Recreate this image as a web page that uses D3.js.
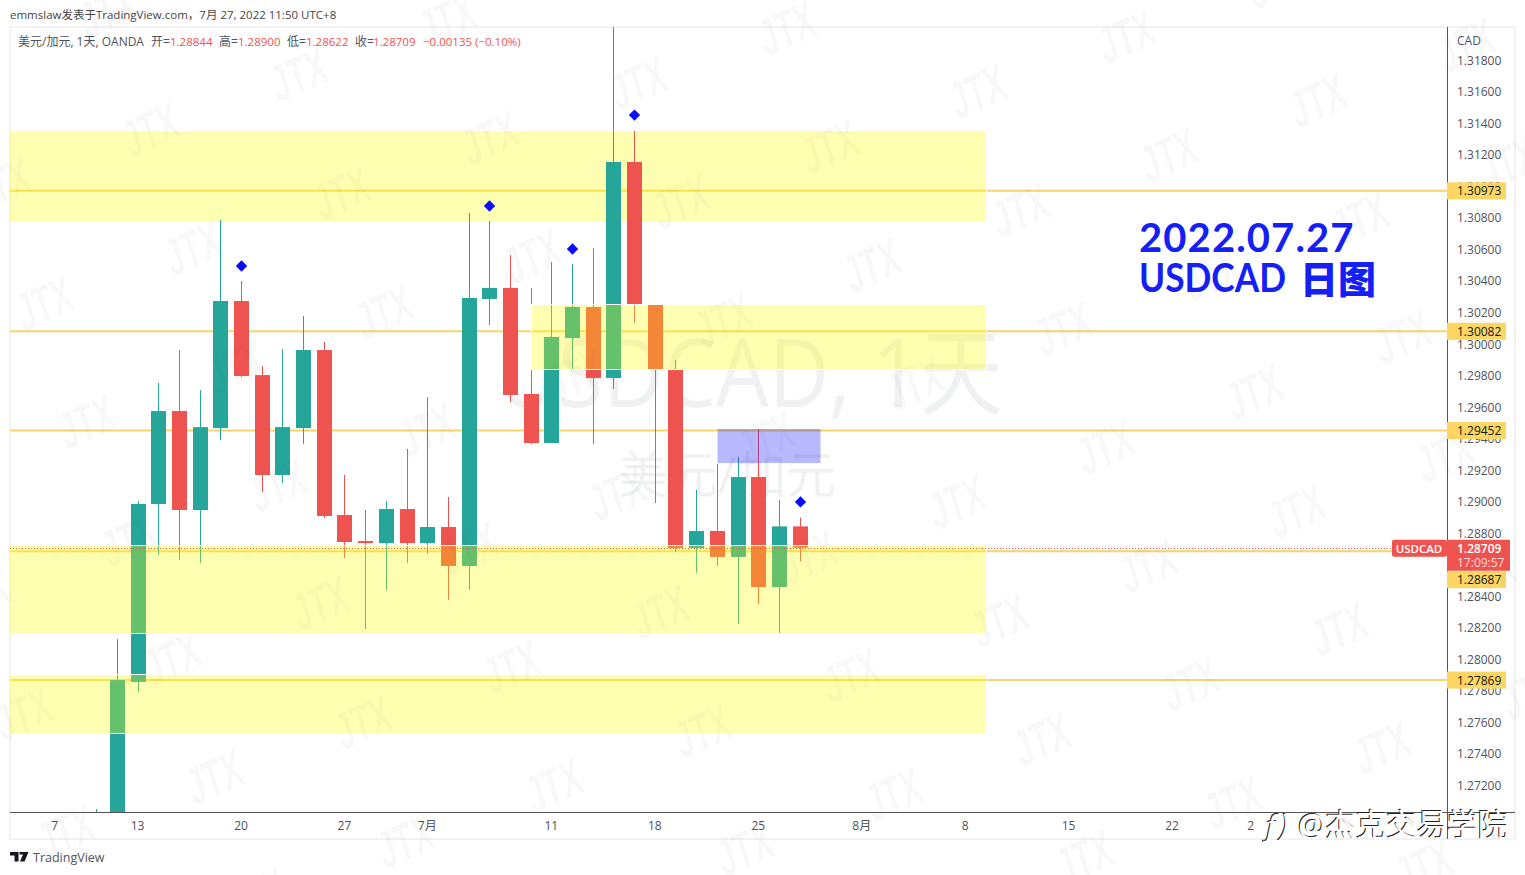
<!DOCTYPE html>
<html>
<head>
<meta charset="utf-8">
<script src="https://cdn.jsdelivr.net/npm/d3@7"></script>
<style>
  body { margin: 0; background: #fff; }
  svg { display: block; }
  text { font-family: "Open Sans", "Noto Sans CJK SC", sans-serif; }
</style>
</head>
<body>
<div id="chart"></div>
<script>
// daily bars, 9 Jun to 27 Jul 2022 (slot 0 on the time axis is 7 Jun)
const firstBarSlot = 2;
const opens  = [1.26500, 1.26700, 1.27857, 1.28986, 1.29576, 1.28948, 1.29468, 1.30274, 1.29804, 1.29170, 1.29468, 1.29963, 1.28916, 1.28751, 1.28738, 1.28954, 1.28738, 1.28840, 1.28593, 1.30287, 1.30357, 1.29684, 1.29373, 1.30039, 1.30236, 1.29785, 1.31156, 1.30249, 1.29836, 1.28707, 1.28815, 1.28650, 1.29157, 1.28459, 1.28844];
const highs  = [1.27051, 1.28129, 1.29005, 1.29754, 1.29963, 1.29709, 1.30788, 1.30401, 1.29862, 1.29969, 1.30179, 1.30014, 1.29170, 1.28948, 1.29005, 1.29335, 1.29665, 1.29030, 1.30832, 1.30782, 1.30566, 1.30357, 1.30521, 1.30509, 1.30610, 1.32240, 1.31353, 1.30249, 1.29900, 1.29075, 1.29240, 1.29284, 1.29462, 1.29011, 1.28900];
const lows   = [1.26400, 1.26500, 1.27793, 1.28662, 1.28631, 1.28612, 1.29392, 1.29792, 1.29062, 1.29119, 1.29367, 1.28897, 1.28643, 1.28193, 1.28440, 1.28612, 1.28669, 1.28377, 1.28440, 1.30122, 1.29633, 1.29367, 1.29373, 1.29843, 1.29367, 1.29716, 1.30134, 1.28992, 1.28681, 1.28548, 1.28593, 1.28225, 1.28351, 1.28167, 1.28622];
const closes = [1.26800, 1.27869, 1.28986, 1.29576, 1.28948, 1.29474, 1.30274, 1.29798, 1.29170, 1.29474, 1.29963, 1.28910, 1.28745, 1.28738, 1.28954, 1.28738, 1.28840, 1.28593, 1.30293, 1.30357, 1.29678, 1.29373, 1.30046, 1.30236, 1.29785, 1.31156, 1.30249, 1.29836, 1.28707, 1.28815, 1.28650, 1.29157, 1.28459, 1.28844, 1.28709];

const axisPrices = [1.318, 1.316, 1.314, 1.312, 1.31, 1.308, 1.306, 1.304, 1.302, 1.3, 1.298, 1.296, 1.294, 1.292, 1.29, 1.288, 1.286, 1.284, 1.282, 1.28, 1.278, 1.276, 1.274, 1.272];
const timeSlots  = [0, 4, 9, 14, 18, 24, 29, 34, 39, 44, 49, 54, 57.8];
const timeLabels = ["7", "13", "20", "27", "7月", "11", "18", "25", "8月", "8", "15", "22", "2"];

const levelPrices = [1.30973, 1.30082, 1.29452, 1.28687, 1.27869];
const lastPrice = 1.28709;
const countdown = "17:09:57";

// yellow boxes: top price, bottom price, first slot (null = from the left edge)
const zoneTops    = [1.31353, 1.30249, 1.28719, 1.27901];
const zoneBottoms = [1.30775, 1.29843, 1.28169, 1.27533];
const zoneStarts  = [null, 23, null, null];
const zoneEndSlot = 45;
const blueBox = [32, 37, 1.29462, 1.29246];

const diamondSlots  = [9, 21, 25, 28, 36];
const diamondPrices = [1.30496, 1.30877, 1.30604, 1.31454, 1.28999];

const legendParts = [
    ["美元/加元, 1天, OANDA", 18, false], ["开=", 151, false], ["1.28844", 170, true],
    ["高=", 219, false], ["1.28900", 238, true], ["低=", 287, false], ["1.28622", 306, true],
    ["收=", 355, false], ["1.28709", 373, true], ["−0.00135 (−0.10%)", 423, true]
];

const width = 1525, height = 875;
const plotLeft = 10, plotRight = 1447, plotTop = 27, plotBottom = 812, frameRight = 1515, frameBottom = 839;
const teal = "#26a69a", red = "#ef5350", levelColor = "#f9d46a", blue = "#1420f5";

const x = d3.scaleLinear().domain([0, 59]).range([55.3, 1276]);
const y = d3.scaleLinear().domain([1.318, 1.272]).range([60.5, 785.5]);

const svg = d3.select("#chart").append("svg").attr("width", width).attr("height", height);

svg.append("defs").append("clipPath").attr("id", "plot-clip")
    .append("rect")
    .attr("x", plotLeft).attr("y", plotTop)
    .attr("width", plotRight - plotLeft).attr("height", plotBottom - plotTop);

// header and frame
svg.append("text").attr("x", 10).attr("y", 19)
    .attr("fill", "#444").style("font-size", "11.5px")
    .text("emmslaw发表于TradingView.com，7月 27, 2022 11:50 UTC+8");

svg.append("rect")
    .attr("x", plotLeft).attr("y", plotTop)
    .attr("width", frameRight - plotLeft).attr("height", frameBottom - plotTop)
    .attr("fill", "#fff").attr("stroke", "#eeeeee").attr("stroke-width", 1.5);

const plot = svg.append("g").attr("clip-path", "url(#plot-clip)");

// pair watermark
plot.append("text").attr("x", 750).attr("y", 407).attr("text-anchor", "middle")
    .attr("fill", "rgba(120,123,134,0.11)")
    .attr("textLength", 506).attr("lengthAdjust", "spacingAndGlyphs")
    .style("font-size", "96px")
    .text("USDCAD, 1天");
plot.append("text").attr("x", 727).attr("y", 493).attr("text-anchor", "middle")
    .attr("fill", "rgba(120,123,134,0.11)")
    .style("font-size", "50px")
    .text("美元/加元");

// level lines
plot.selectAll("line.level").data(levelPrices).enter().append("line")
    .attr("class", "level")
    .attr("x1", plotLeft).attr("x2", plotRight)
    .attr("y1", d => y(d)).attr("y2", d => y(d))
    .attr("stroke", levelColor).attr("stroke-width", 2);

const zoneRows = zoneTops.map((t, i) => ({ top: t, bottom: zoneBottoms[i], start: zoneStarts[i] }));

function drawZones(rows) {
    const left = d => d.start === null ? plotLeft - 2 : Math.floor(x(d.start)) + 0.5;
    plot.append("g").selectAll("rect").data(rows).enter().append("rect")
        .attr("x", left)
        .attr("width", d => Math.floor(x(zoneEndSlot)) + 0.5 - left(d))
        .attr("y", d => Math.round(y(d.top)) - 0.5)
        .attr("height", d => Math.round(y(d.bottom)) - Math.round(y(d.top)) + 1)
        .attr("fill", "rgba(255,255,0,0.3)")
        .attr("stroke", "#fff").attr("stroke-width", 1);
}

// the top box sits under the candles, the others over them
drawZones(zoneRows.slice(0, 1));

// candles
const bars = closes.map((c, i) => ({ slot: firstBarSlot + i, o: opens[i], h: highs[i], l: lows[i], c: c }));
const candle = plot.append("g").selectAll("g").data(bars).enter().append("g")
    .attr("fill", d => d.c >= d.o ? teal : red);

candle.append("rect")
    .attr("x", d => Math.floor(x(d.slot)))
    .attr("width", 1)
    .attr("y", d => y(d.h))
    .attr("height", d => y(d.l) - y(d.h));

candle.append("rect")
    .attr("x", d => Math.floor(x(d.slot)) - 7)
    .attr("width", 15)
    .attr("y", d => y(Math.max(d.o, d.c)))
    .attr("height", d => Math.max(1.5, Math.abs(y(d.o) - y(d.c))));

drawZones(zoneRows.slice(1));

// blue box
plot.append("rect")
    .attr("x", Math.floor(x(blueBox[0])) + 0.5)
    .attr("width", Math.floor(x(blueBox[1])) - Math.floor(x(blueBox[0])))
    .attr("y", Math.round(y(blueBox[2])))
    .attr("height", y(blueBox[3]) - y(blueBox[2]))
    .attr("fill", "rgba(0,0,255,0.28)");

// last price dotted line
plot.append("line")
    .attr("x1", plotLeft).attr("x2", 1392)
    .attr("y1", Math.round(y(lastPrice)) + 0.5).attr("y2", Math.round(y(lastPrice)) + 0.5)
    .attr("stroke", red).attr("stroke-width", 1).attr("stroke-dasharray", "1,2");

// diamonds
plot.selectAll("path.diamond").data(diamondSlots).enter().append("path")
    .attr("class", "diamond")
    .attr("d", d3.symbol().type(d3.symbolSquare).size(64))
    .attr("fill", "#0a0aff")
    .attr("transform", (d, i) => `translate(${Math.floor(x(d)) + 0.5},${y(diamondPrices[i])}) rotate(45)`);

// axes
const priceAxis = svg.append("g")
    .attr("transform", `translate(${plotRight},0)`)
    .call(d3.axisRight(y).tickValues(axisPrices).tickSize(0).tickPadding(10).tickFormat(d3.format(".5f")));
priceAxis.select(".domain").remove();
priceAxis.selectAll("text").attr("fill", "#50535e").style("font-size", "12px").style("font-family", null);

const timeAxis = svg.append("g")
    .attr("transform", `translate(0,${plotBottom})`)
    .call(d3.axisBottom(x).tickValues(timeSlots).tickSize(0).tickPadding(9).tickFormat((d, i) => timeLabels[i]));
timeAxis.select(".domain").remove();
timeAxis.selectAll("text").attr("dx", -1).attr("fill", "#50535e").style("font-size", "12px").style("font-family", null);

svg.append("line").attr("x1", plotRight + 0.5).attr("x2", plotRight + 0.5)
    .attr("y1", plotTop).attr("y2", frameBottom).attr("stroke", "#555");
svg.append("line").attr("x1", plotLeft).attr("x2", frameRight)
    .attr("y1", plotBottom + 0.5).attr("y2", plotBottom + 0.5).attr("stroke", "#555");

svg.append("text").attr("x", 1457).attr("y", 45)
    .attr("fill", "#50535e").style("font-size", "12px").text("CAD");

// legend line
svg.append("g").selectAll("text").data(legendParts).enter().append("text")
    .attr("x", d => d[1]).attr("y", 46)
    .attr("fill", d => d[2] ? red : "#50535e")
    .style("font-size", d => d[2] ? "11.5px" : "12px")
    .text(d => d[0]);

// price labels on the axis; one that would sit under the last price label goes below it
const lastY = y(lastPrice);
const labelY = d => Math.abs(y(d) - lastY) < 20 ? lastY + 32 : y(d);
const levelLabels = svg.append("g").selectAll("g").data(levelPrices).enter().append("g")
    .attr("transform", d => `translate(${plotRight},${labelY(d)})`);
levelLabels.append("rect")
    .attr("x", 0).attr("y", -8.5).attr("width", 59).attr("height", 17)
    .attr("fill", "#fdd663");
levelLabels.append("text")
    .attr("x", 10).attr("y", 4.5)
    .attr("fill", "#131722").style("font-size", "12px")
    .text(d => d.toFixed(5));

svg.append("rect").attr("x", 1392).attr("y", lastY - 8).attr("width", 55).attr("height", 17).attr("rx", 2).attr("fill", red);
svg.append("text").attr("x", 1419).attr("y", lastY + 5).attr("text-anchor", "middle")
    .attr("fill", "#fff").style("font-size", "11.5px").style("font-weight", "600").text("USDCAD");
svg.append("rect").attr("x", plotRight).attr("y", lastY - 8).attr("width", 63).attr("height", 31).attr("rx", 1).attr("fill", red);
svg.append("text").attr("x", 1457).attr("y", lastY + 5)
    .attr("fill", "#fff").style("font-size", "12px").style("font-weight", "600").text(lastPrice.toFixed(5));
svg.append("text").attr("x", 1457).attr("y", lastY + 19)
    .attr("fill", "#ffdcdc").style("font-size", "12px").text(countdown);

// title
svg.append("text").attr("x", 1139).attr("y", 252)
    .attr("fill", blue).style("font-family", "Lato, sans-serif")
    .style("font-size", "40px").style("font-weight", "700")
    .style("letter-spacing", "1.1px")
    .text("2022.07.27");
svg.append("text").attr("x", 1139).attr("y", 292)
    .attr("fill", blue).style("font-family", "Lato, sans-serif")
    .attr("textLength", 147).attr("lengthAdjust", "spacingAndGlyphs")
    .style("font-size", "40px").style("font-weight", "700")
    .text("USDCAD");
svg.append("text").attr("x", 1300).attr("y", 293)
    .attr("fill", blue).style("font-family", "'Noto Sans CJK SC', sans-serif")
    .style("font-size", "38px").style("font-weight", "900")
    .text("日图");

// TradingView mark
svg.append("path")
    .attr("d", "M10 852h8.5v9.5h-4v-6h-4.5z M19.5 852h9l-4 9.5h-4.5l3-7h-3.5z")
    .attr("fill", "#131722");
svg.append("text").attr("x", 33).attr("y", 862)
    .attr("fill", "#50535e").style("font-size", "12.5px").text("TradingView");

// JTX stamp repeated over the whole page
const stamps = [];
d3.range(-12, 16).forEach(i => {
    d3.range(-4, 12).forEach(j => {
        const sx = 150 + i * 148.5 + j * 42.5;
        const sy = 130 - i * 55 + j * 118.5;
        if (sx > -40 && sx < width + 40 && sy > -30 && sy < height + 30) stamps.push([sx, sy]);
    });
});
svg.append("g").selectAll("text").data(stamps).enter().append("text")
    .attr("transform", d => `translate(${d[0]},${d[1]}) rotate(-24)`)
    .attr("text-anchor", "middle").attr("y", 18)
    .attr("textLength", 58).attr("lengthAdjust", "spacingAndGlyphs")
    .attr("fill", "rgba(60,60,70,0.045)")
    .style("font-family", "'Liberation Sans', sans-serif")
    .style("font-size", "52px").style("font-weight", "700").style("font-style", "italic")
    .text("JTX");

// weibo stamp
const weibo = svg.append("g");
[["#222", 0, 0], ["#fff", 1, 1]].forEach(p => {
    weibo.append("text").attr("x", 1262 + p[1]).attr("y", 835 + p[2])
        .attr("fill", p[0]).style("font-size", "31px").style("font-style", "italic")
        .text("ƒ)");
    weibo.append("text").attr("x", 1297 + p[1]).attr("y", 835 + p[2])
        .attr("fill", p[0]).style("font-size", "30.5px")
        .text("@杰克交易学院");
});
</script>
</body>
</html>
